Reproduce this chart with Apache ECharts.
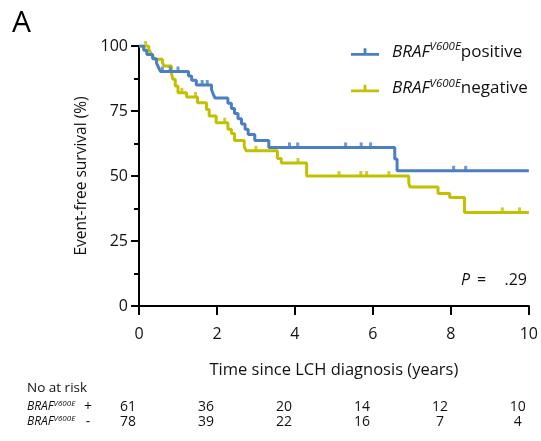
<!DOCTYPE html>
<html><head><meta charset="utf-8">
<script src="https://cdn.jsdelivr.net/npm/echarts@6/dist/echarts.min.js"></script>
<style>html,body{margin:0;padding:0;background:#fff}#c{width:541px;height:441px}</style>
</head><body><div id="c"></div>
<script>
// Kaplan-Meier steps [years, % event-free]
const posSteps = [[0,100],[0.12,98.4],[0.2,96.7],[0.35,95.1],[0.45,93.4],[0.5,91.8],[0.55,90.2],[1.27,88.5],[1.35,86.8],[1.47,85.0],[1.86,83.3],[1.9,81.6],[1.95,80.0],[2.28,78.0],[2.37,76.0],[2.45,74.0],[2.54,72.0],[2.63,70.0],[2.72,68.0],[2.8,66.0],[2.97,63.7],[3.33,61.0],[6.56,56.5],[6.62,52.0],[10,52.0]];
const negSteps = [[0,100],[0.25,98.7],[0.3,97.4],[0.35,96.2],[0.4,94.9],[0.6,93.6],[0.65,92.3],[0.83,89.7],[0.87,87.2],[0.93,84.6],[1.0,82.0],[1.22,80.4],[1.5,78.2],[1.73,75.6],[1.8,73.1],[1.98,70.5],[2.28,68.0],[2.37,66.3],[2.45,63.7],[2.7,61.2],[2.75,59.7],[3.55,56.7],[3.65,55.0],[4.3,50.0],[6.92,47.3],[6.95,45.8],[7.67,43.3],[7.97,41.7],[8.35,36.0],[10,36.0]];
const posCensor = [0.6,0.8,1.0,1.62,1.75,3.86,4.07,5.3,5.7,5.94,8.07,8.38];
const negCensor = [0.17,1.1,1.45,2.2,3.0,4.08,5.13,5.69,5.84,6.41,9.32,9.76];
const riskTimes = [0,2,4,6,8,10];
const riskPos = [61,36,20,14,12,10];
const riskNeg = [78,39,22,16,7,4];
const pLabel = '.29';

const BLUE = '#4a7fc2', YEL = '#c2c000';
function lookup(steps, t){ let v = steps[0][1]; for (const s of steps){ if (s[0] <= t) v = s[1]; } return v; }
const posC = posCensor.map(t => [t, lookup(posSteps, t)]);
const negC = negCensor.map(t => [t, lookup(negSteps, t)]);
const FONT = '"Open Sans", "Noto Sans", sans-serif';
const legendIcon = 'path://M0,5H30V8H0Z M13.5,0H16.5V5H13.5Z';

const chart = echarts.init(document.getElementById('c'), null, {renderer:'canvas'});
const option = {
  animation: false,
  textStyle: {fontFamily: FONT},
  grid: {left:139, right:12, top:46, bottom:135, containLabel:false},
  xAxis: {
    type:'value', min:0, max:10, interval:2,
    name:'Time since LCH diagnosis (years)', nameLocation:'middle', nameGap:56,
    nameTextStyle:{fontSize:16.5, color:'#111', fontFamily:FONT},
    axisLine:{show:true, lineStyle:{color:'#000', width:2}},
    axisTick:{show:true, length:9, lineStyle:{color:'#000', width:2}},
    axisLabel:{fontSize:16, color:'#111', margin:20, fontFamily:FONT},
    splitLine:{show:false}
  },
  yAxis: {
    type:'value', min:0, max:100, interval:25,
    name:'Event-free survival (%)', nameLocation:'middle', nameGap:46,
    nameTextStyle:{fontSize:15.5, color:'#111', fontFamily:FONT},
    axisLine:{show:true, lineStyle:{color:'#000', width:2}},
    axisTick:{show:true, length:8, lineStyle:{color:'#000', width:2}},
    minorTick:{show:true, splitNumber:2, length:5, lineStyle:{color:'#000', width:2}},
    axisLabel:{fontSize:16, color:'#111', margin:11, fontFamily:FONT},
    splitLine:{show:false}
  },
  legend: {
    orient:'vertical', left:346, top:36, itemGap:17, itemWidth:28, itemHeight:8,
    data:[{name:'pos', icon:legendIcon},{name:'neg', icon:legendIcon}],
    formatter: n => n==='pos' ? '{i|BRAF}{s|V600E}{n|positive}' : '{i|BRAF}{s|V600E}{n|negative}',
    textStyle:{ color:'#111', fontFamily:FONT, padding:[0,0,0,8],
      rich:{
        i:{fontStyle:'italic', fontSize:17, lineHeight:22, fontFamily:FONT, color:'#111'},
        s:{fontStyle:'italic', fontSize:11.5, lineHeight:12, verticalAlign:'top', fontFamily:FONT, color:'#111', letterSpacing:-0.5},
        n:{fontSize:17, lineHeight:22, fontFamily:FONT, color:'#111'}
      }}
  },
  series: [
    {name:'pos', type:'line', step:'end', data:posSteps, showSymbol:false, symbol:'none',
     lineStyle:{color:BLUE, width:3}, itemStyle:{color:BLUE}, z:3},
    {name:'neg', type:'line', step:'end', data:negSteps, showSymbol:false, symbol:'none',
     lineStyle:{color:YEL, width:3}, itemStyle:{color:YEL}, z:2},
    {name:'posCensor', type:'scatter', data:posC, symbol:'rect', symbolSize:[3,5], symbolOffset:[0,-2.5],
     itemStyle:{color:BLUE}, z:3, silent:true},
    {name:'negCensor', type:'scatter', data:negC, symbol:'rect', symbolSize:[3,5], symbolOffset:[0,-2.5],
     itemStyle:{color:YEL}, z:2, silent:true}
  ]
};
chart.setOption(option);

// Panel label, P value and number-at-risk table
const g = [];
g.push({type:'text', left:12, top:8, style:{text:'A', fontSize:30, fontFamily:FONT, fill:'#000'}});
g.push({type:'text', x:461, y:280, style:{text:'P', fontStyle:'italic', fontSize:16, fontFamily:FONT, fill:'#111', verticalAlign:'middle'}});
g.push({type:'text', x:477, y:280, style:{text:'=', fontSize:16, fontFamily:FONT, fill:'#111', verticalAlign:'middle'}});
g.push({type:'text', x:527, y:280, style:{text:pLabel, fontSize:16, fontFamily:FONT, fill:'#111', align:'right', verticalAlign:'middle'}});
g.push({type:'text', x:27, y:388, style:{text:'No at risk', fontSize:13.5, fontFamily:FONT, fill:'#111', verticalAlign:'middle'}});
const rowRich = {i:{fontStyle:'italic', fontSize:12, lineHeight:15, fontFamily:FONT, fill:'#111'},
                 s:{fontStyle:'italic', fontSize:8, lineHeight:9, verticalAlign:'top', fontFamily:FONT, fill:'#111'}};
const rows = [{vals:riskPos, sign:'+', y:407},{vals:riskNeg, sign:'-', y:422}];
rows.forEach(r => {
  g.push({type:'text', x:27, y:r.y, style:{text:'{i|BRAF}{s|V600E}', fontFamily:FONT, fill:'#111', rich:rowRich, verticalAlign:'middle'}});
  g.push({type:'text', x:88, y:r.y, style:{text:r.sign, fontSize:14, fontFamily:FONT, fill:'#111', align:'center', verticalAlign:'middle'}});
  r.vals.forEach((v,k) => {
    const px = chart.convertToPixel({xAxisIndex:0}, riskTimes[k]) - 11;
    g.push({type:'text', x:px, y:r.y, style:{text:String(v), fontSize:14, fontFamily:FONT, fill:'#111', align:'center', verticalAlign:'middle'}});
  });
});
chart.setOption({graphic:g});
</script></body></html>
